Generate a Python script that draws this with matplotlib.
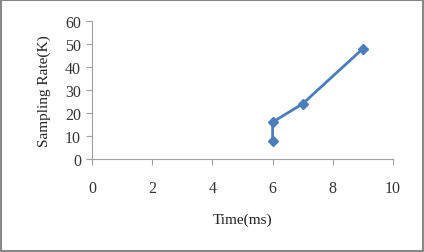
import matplotlib
matplotlib.use("Agg")
import matplotlib.pyplot as plt
from matplotlib.patches import Rectangle

time_ms = [6, 6, 7, 9]
rate_k = [8, 16, 24, 48]
x_ticks = [0, 2, 4, 6, 8, 10]
y_ticks = [0, 10, 20, 30, 40, 50, 60]

plt.rcParams['font.family'] = ['Liberation Serif', 'DejaVu Serif']

fig = plt.figure(figsize=(4.24, 2.53), dpi=100)
ax = fig.add_axes([0.217, 0.368, 0.710, 0.545])

ax.plot(time_ms, rate_k, color='#4A7EBB', linewidth=2, marker='D', markersize=5.5,
        markerfacecolor='#4A7EBB', markeredgecolor='#4A7EBB')

ax.set_xlim(0, 10)
ax.set_ylim(0, 60)
ax.set_xticks(x_ticks)
ax.set_yticks(y_ticks)
for s in ['top', 'right']:
    ax.spines[s].set_visible(False)
for s in ['left', 'bottom']:
    ax.spines[s].set_color('#A0A0A0')
    ax.spines[s].set_linewidth(0.8)
ax.tick_params(axis='both', direction='out', colors='#A0A0A0', labelcolor='#333333',
               labelsize=11.5, length=4, width=0.8)
ax.tick_params(axis='x', pad=11)
ax.tick_params(axis='y', pad=4)
ax.set_xlabel('Time(ms)', fontsize=11, color='#222222', labelpad=12)
ax.set_ylabel('Sampling Rate(K)', fontsize=11, color='#222222', labelpad=10)

fig.patches.append(Rectangle((0.003, 0.005), 0.994, 0.99, transform=fig.transFigure,
                             fill=False, edgecolor='#888888', linewidth=1.5))

fig.savefig('out.png', dpi=100)
